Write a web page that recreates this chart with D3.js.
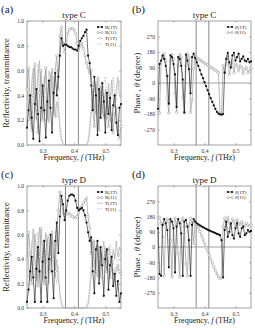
<!DOCTYPE html>
<html>
<head>
<meta charset="utf-8">
<script src="https://cdn.jsdelivr.net/npm/d3@7"></script>
<style>
  body { margin: 0; background: #fff; }
  svg { display: block; }
  text { font-family: 'Liberation Serif', 'DejaVu Serif', serif; fill: #222; }
</style>
</head>
<body>
<div id="chart"></div>
<script>
// frequency grid (THz)
const freq = [0.250, 0.255, 0.260, 0.265, 0.270, 0.275, 0.280, 0.285, 0.290, 0.295,
    0.300, 0.305, 0.310, 0.315, 0.320, 0.325, 0.330, 0.335, 0.340, 0.345,
    0.350, 0.355, 0.360, 0.365, 0.370, 0.375, 0.380, 0.385, 0.390, 0.395,
    0.400, 0.405, 0.410, 0.415, 0.420, 0.425, 0.430, 0.435, 0.440, 0.445,
    0.450, 0.455, 0.460, 0.465, 0.470, 0.475, 0.480, 0.485, 0.490, 0.495,
    0.500, 0.505, 0.510, 0.515, 0.520, 0.525, 0.530, 0.535, 0.540, 0.545, 0.550]

// band edges (vertical lines)
const bandEdges = [0.373, 0.414]

// type C reflectivity / transmittance
const rC1T = [0.14, 0.28, 0.40, 0.22, 0.05, 0.33, 0.45, 0.25, 0.03, 0.30,
    0.48, 0.28, 0.06, 0.35, 0.52, 0.30, 0.10, 0.42, 0.58, 0.40,
    0.55, 0.72, 0.86, 0.80, 0.81, 0.81, 0.80, 0.79, 0.79, 0.78,
    0.77, 0.77, 0.76, 0.80, 0.84, 0.86, 0.88, 0.91, 0.93, 0.72,
    0.66, 0.48, 0.28, 0.55, 0.40, 0.08, 0.45, 0.22, 0.50, 0.35,
    0.10, 0.42, 0.25, 0.38, 0.12, 0.32, 0.40, 0.18, 0.08, 0.30, 0.33]
const rC11 = [0.45, 0.62, 0.35, 0.12, 0.40, 0.65, 0.30, 0.10, 0.42, 0.60,
    0.20, 0.45, 0.62, 0.20, 0.35, 0.58, 0.45, 0.25, 0.60, 0.72,
    0.45, 0.88, 0.95, 0.82, 0.75, 0.82, 0.90, 0.93, 0.94, 0.94,
    0.93, 0.90, 0.82, 0.76, 0.80, 0.82, 0.78, 0.72, 0.66, 0.62,
    0.58, 0.60, 0.30, 0.15, 0.50, 0.30, 0.12, 0.45, 0.25, 0.40,
    0.22, 0.35, 0.15, 0.30, 0.20, 0.10, 0.25, 0.30, 0.12, 0.05, 0.15]
const tC1T = [0.55, 0.30, 0.20, 0.50, 0.62, 0.35, 0.20, 0.55, 0.68, 0.35,
    0.25, 0.52, 0.60, 0.30, 0.18, 0.42, 0.62, 0.40, 0.22, 0.35,
    0.30, 0.15, 0.06, 0.01, 0.00, 0.00, 0.00, 0.00, 0.00, 0.00,
    0.00, 0.00, 0.00, 0.00, 0.00, 0.00, 0.00, 0.00, 0.00, 0.02,
    0.10, 0.25, 0.45, 0.30, 0.25, 0.55, 0.35, 0.48, 0.30, 0.22,
    0.45, 0.30, 0.50, 0.35, 0.52, 0.38, 0.30, 0.45, 0.55, 0.40, 0.38]
const tC11 = [0.62, 0.40, 0.15, 0.38, 0.55, 0.28, 0.40, 0.65, 0.40, 0.20,
    0.50, 0.55, 0.25, 0.45, 0.60, 0.35, 0.45, 0.55, 0.30, 0.22,
    0.40, 0.10, 0.03, 0.01, 0.00, 0.00, 0.00, 0.00, 0.00, 0.00,
    0.00, 0.00, 0.00, 0.00, 0.00, 0.00, 0.00, 0.00, 0.01, 0.05,
    0.18, 0.30, 0.40, 0.50, 0.30, 0.45, 0.55, 0.30, 0.40, 0.50,
    0.55, 0.35, 0.45, 0.30, 0.42, 0.55, 0.40, 0.35, 0.48, 0.52, 0.40]

// type D reflectivity / transmittance
const rD1T = [0.05, 0.15, 0.30, 0.42, 0.25, 0.05, 0.32, 0.50, 0.30, 0.05,
    0.38, 0.55, 0.25, 0.05, 0.40, 0.60, 0.30, 0.08, 0.55, 0.70,
    0.45, 0.75, 0.92, 0.85, 0.72, 0.80, 0.88, 0.92, 0.93, 0.93,
    0.92, 0.88, 0.82, 0.80, 0.81, 0.82, 0.80, 0.76, 0.70, 0.62,
    0.55, 0.58, 0.30, 0.12, 0.48, 0.55, 0.20, 0.50, 0.35, 0.10,
    0.40, 0.48, 0.15, 0.35, 0.42, 0.18, 0.28, 0.10, 0.22, 0.05, 0.12]
const rD11 = [0.40, 0.62, 0.45, 0.20, 0.38, 0.60, 0.48, 0.18, 0.42, 0.65,
    0.40, 0.20, 0.45, 0.58, 0.30, 0.42, 0.62, 0.40, 0.30, 0.62,
    0.80, 0.95, 0.88, 0.78, 0.76, 0.77, 0.78, 0.77, 0.76, 0.75,
    0.74, 0.74, 0.75, 0.78, 0.82, 0.83, 0.86, 0.88, 0.90, 0.75,
    0.66, 0.45, 0.55, 0.35, 0.30, 0.50, 0.40, 0.25, 0.45, 0.38,
    0.48, 0.30, 0.40, 0.25, 0.35, 0.30, 0.20, 0.32, 0.35, 0.30, 0.28]
const tD1T = [0.60, 0.35, 0.22, 0.48, 0.65, 0.40, 0.22, 0.50, 0.66, 0.38,
    0.22, 0.50, 0.62, 0.35, 0.20, 0.45, 0.60, 0.38, 0.25, 0.40,
    0.25, 0.12, 0.05, 0.01, 0.00, 0.00, 0.00, 0.00, 0.00, 0.00,
    0.00, 0.00, 0.00, 0.00, 0.00, 0.00, 0.00, 0.00, 0.00, 0.03,
    0.12, 0.28, 0.42, 0.55, 0.30, 0.25, 0.50, 0.35, 0.45, 0.55,
    0.40, 0.30, 0.50, 0.45, 0.35, 0.48, 0.40, 0.55, 0.42, 0.50, 0.45]
const tD11 = [0.52, 0.25, 0.30, 0.55, 0.45, 0.25, 0.45, 0.62, 0.35, 0.25,
    0.55, 0.45, 0.28, 0.50, 0.58, 0.30, 0.40, 0.55, 0.28, 0.20,
    0.35, 0.08, 0.02, 0.00, 0.00, 0.00, 0.00, 0.00, 0.00, 0.00,
    0.00, 0.00, 0.00, 0.00, 0.00, 0.00, 0.00, 0.00, 0.01, 0.06,
    0.20, 0.35, 0.45, 0.35, 0.50, 0.40, 0.32, 0.50, 0.42, 0.35,
    0.50, 0.45, 0.38, 0.52, 0.40, 0.35, 0.45, 0.40, 0.38, 0.45, 0.40]

// type C phases (degree)
const pC1T = [-150, 110, 130, 160, 140, 100, 40, -120, 160, 150,
    110, 50, -140, 150, 140, 100, 20, -170, 165, 130,
    80, -60, 150, 170, 145, 120, 100, 75, 50, 28,
    5, -18, -42, -65, -88, -110, -130, -150, -168, -178,
    -182, -184, -180, 60, 140, 175, 120, 90, 160, 175,
    130, 150, 170, 125, 140, 155, 130, 125, 140, 120, 125]
const pC11 = [-160, -175, 120, 150, 170, 130, -90, -175, 130, 165,
    140, -60, -170, 100, 165, 150, -80, -175, 100, 170,
    150, -170, -100, 80, 150, 145, 140, 134, 128, 122,
    116, 110, 104, 98, 92, 86, 80, 74, 68, 62,
    -175, -180, 100, 60, 110, 160, 50, 90, 130, 60,
    110, 100, 70, 100, 90, 55, 80, 90, 60, 70, 85]

// type D phases (degree)
const pD1T = [110, -160, -170, 130, 165, 140, 100, -120, 165, 150,
    110, -150, 120, 165, 140, 80, -170, 150, 160, 120,
    40, -170, 130, 165, 150, 140, 134, 128, 122, 117,
    112, 107, 102, 98, 94, 90, 86, 82, 78, 74,
    70, 40, -180, 100, 150, 60, 90, 140, 70, 50,
    110, 140, 80, 60, 110, 120, 70, 80, 100, 90, 95]
const pD11 = [170, 175, 140, 60, -170, 120, 165, 150, 40, -175,
    140, 170, 130, -40, -175, 150, 170, 120, -100, -170,
    130, 170, 140, 20, 150, 135, 115, 92, 68, 45,
    22, -2, -25, -48, -72, -95, -118, -140, -160, -178,
    -185, -180, 120, 170, 120, 175, 140, 110, 165, 150,
    120, 160, 140, 130, 150, 130, 125, 140, 130, 125, 130]

const rTicks = [0.0, 0.2, 0.4, 0.6, 0.8, 1.0]
const pTicks = [-270, -180, -90, 0, 90, 180, 270]
const fTicks = [0.3, 0.4, 0.5]

const W = 255, H = 328
const svg = d3.select('#chart').append('svg')
    .attr('width', W).attr('height', H)

const gray = '#8a8a8a'

function drawPanel(p) {
    const g = svg.append('g')
    const x = d3.scaleLinear().domain([0.25, 0.55]).range([p.left, p.right])
    const y = d3.scaleLinear().domain(p.yDomain).range([p.bottom, p.top])

    // panel letter and title
    g.append('text').attr('x', p.left - 26).attr('y', p.top - 8)
        .style('font-size', '11px').text(p.letter)
    g.append('text').attr('x', (p.left + p.right) / 2).attr('y', p.top - 3)
        .attr('text-anchor', 'middle').style('font-size', '9px').text(p.title)

    // frame
    g.append('rect').attr('x', p.left).attr('y', p.top)
        .attr('width', p.right - p.left).attr('height', p.bottom - p.top)
        .style('fill', 'none').style('stroke', gray).style('stroke-width', 0.8)

    // ticks, inside, mirrored
    const yAxis = d3.axisLeft(y).tickValues(p.yTicks).tickSize(-2).tickPadding(3)
        .tickFormat(p.yFormat)
    const yAxisR = d3.axisRight(y).tickValues(p.yTicks).tickSize(-2).tickFormat('')
    const xAxis = d3.axisBottom(x).tickValues(fTicks).tickSize(-2).tickPadding(4)
        .tickFormat(d3.format('.1f'))
    const xAxisT = d3.axisTop(x).tickValues(fTicks).tickSize(-2).tickFormat('')

    g.append('g').attr('transform', `translate(${p.left},0)`).call(yAxis)
    g.append('g').attr('transform', `translate(${p.right},0)`).call(yAxisR)
    const xa = g.append('g').attr('transform', `translate(0,${p.bottom})`).call(xAxis)
    g.append('g').attr('transform', `translate(0,${p.top})`).call(xAxisT)
    g.selectAll('.domain').remove()
    g.selectAll('.tick line').style('stroke', gray).style('stroke-width', 0.6)
    g.selectAll('.tick text').style('font-size', '5.5px')
        .style('font-family', "'Liberation Serif', serif").style('fill', '#333')

    // axis titles
    xa.append('text').attr('x', (p.left + p.right) / 2).attr('y', 15)
        .attr('text-anchor', 'middle').style('font-size', '8px').style('fill', '#222')
        .style('font-family', "'Liberation Serif', serif")
        .html('Frequency, <tspan font-style="italic">f</tspan> (THz)')
    g.append('text')
        .attr('transform', `translate(${p.left - 18},${(p.top + p.bottom) / 2}) rotate(-90)`)
        .attr('text-anchor', 'middle').style('font-size', '8.5px')
        .html(p.yLabel)

    // reference lines
    if (p.zeroLine) {
        g.append('line').attr('x1', p.left).attr('x2', p.right)
            .attr('y1', y(0)).attr('y2', y(0))
            .style('stroke', gray).style('stroke-width', 0.8)
    }
    g.selectAll('.band').data(bandEdges).join('line')
        .attr('x1', d => x(d)).attr('x2', d => x(d))
        .attr('y1', p.top).attr('y2', p.bottom)
        .style('stroke', gray).style('stroke-width', 1)

    const marks = g.append('g')
    const line = d3.line().x((d, i) => x(freq[i])).y(d => y(d))

    // draw lines first (T behind), then R with markers on top
    p.series.slice().reverse().forEach(s => {
        marks.append('path').datum(s.values)
            .attr('d', line)
            .style('fill', 'none')
            .style('stroke', s.stroke)
            .style('stroke-width', s.width)
            .style('stroke-dasharray', s.dash || null)
        if (s.marker === 'dot') {
            marks.selectAll(null).data(s.values).join('circle')
                .attr('cx', (d, i) => x(freq[i])).attr('cy', d => y(d))
                .attr('r', 1.1).style('fill', '#111')
        } else if (s.marker === 'open') {
            marks.selectAll(null).data(s.values).join('circle')
                .attr('cx', (d, i) => x(freq[i])).attr('cy', d => y(d))
                .attr('r', 1.2).style('fill', '#fff')
                .style('stroke', '#999').style('stroke-width', 0.6)
        }
    })

    // legend
    const lg = g.append('g').attr('transform', `translate(${p.right - 24},${p.top + 6})`)
    p.series.forEach((s, i) => {
        const row = lg.append('g').attr('transform', `translate(0,${i * 5.6})`)
        row.append('line').attr('x1', 0).attr('x2', 6).attr('y1', 0).attr('y2', 0)
            .style('stroke', s.stroke).style('stroke-width', s.width)
            .style('stroke-dasharray', s.dash || null)
        if (s.marker) {
            row.selectAll('circle').data([1, 5]).join('circle')
                .attr('cx', d => d).attr('cy', 0).attr('r', 1.1)
                .style('fill', s.marker === 'dot' ? '#111' : '#fff')
                .style('stroke', s.marker === 'dot' ? 'none' : '#999')
                .style('stroke-width', 0.6)
        }
        row.append('text').attr('x', 8).attr('y', 1.8)
            .style('font-size', '5px').html(s.label)
    })
}

function rSeries(r1T, r11, t1T, t11) {
    return [
        { values: r1T, marker: 'dot', stroke: '#111', width: 0.6, label: 'R(1T)' },
        { values: r11, marker: 'open', stroke: '#999', width: 0.7, label: 'R(11)' },
        { values: t1T, stroke: '#aaa', width: 0.7, label: 'T(1T)' },
        { values: t11, stroke: '#b5b5b5', width: 0.6, dash: '2,1', label: 'T(11)' }
    ]
}
function pSeries(p1T, p11) {
    return [
        { values: p1T, marker: 'dot', stroke: '#111', width: 0.6,
          label: '<tspan font-style="italic">θ</tspan>(1T)' },
        { values: p11, marker: 'open', stroke: '#999', width: 0.7,
          label: '<tspan font-style="italic">θ</tspan>(11)' }
    ]
}

const rowTop = [21, 186]
const rowBottom = [145, 308]
const rLabel = 'Reflectivity, transmittance'
const pLabel = 'Phase , <tspan font-style="italic">θ</tspan> (degree)'

drawPanel({ letter: '(a)', title: 'type C', left: 27, right: 121, top: rowTop[0], bottom: rowBottom[0],
    yDomain: [0, 1], yTicks: rTicks, yFormat: d3.format('.1f'), yLabel: rLabel,
    series: rSeries(rC1T, rC11, tC1T, tC11) })
drawPanel({ letter: '(b)', title: 'type C', left: 158, right: 251, top: rowTop[0], bottom: rowBottom[0],
    yDomain: [-360, 360], yTicks: pTicks, yFormat: d3.format('d'), yLabel: pLabel, zeroLine: true,
    series: pSeries(pC1T, pC11) })
drawPanel({ letter: '(c)', title: 'type D', left: 27, right: 121, top: rowTop[1], bottom: rowBottom[1],
    yDomain: [0, 1], yTicks: rTicks, yFormat: d3.format('.1f'), yLabel: rLabel,
    series: rSeries(rD1T, rD11, tD1T, tD11) })
drawPanel({ letter: '(d)', title: 'type D', left: 158, right: 251, top: rowTop[1], bottom: rowBottom[1],
    yDomain: [-360, 360], yTicks: pTicks, yFormat: d3.format('d'), yLabel: pLabel, zeroLine: true,
    series: pSeries(pD1T, pD11) })
</script>
</body>
</html>
